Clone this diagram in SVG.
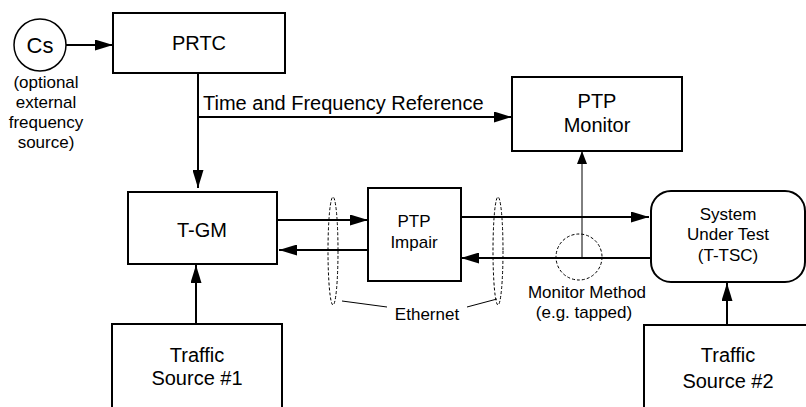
<svg xmlns="http://www.w3.org/2000/svg" width="806" height="407" viewBox="0 0 806 407">
<style>
  text { font-family: "Liberation Sans", Arial, sans-serif; fill: #000; text-anchor: middle; }
  .big { font-size: 20px; }
  .mid { font-size: 17px; }
  .box { fill: #fff; stroke: #000; stroke-width: 2; }
  .conn { stroke: #000; stroke-width: 2; fill: none; marker-end: url(#ah); }
  .thin { stroke: #000; stroke-width: 1; fill: none; }
  .dash { stroke: #000; stroke-width: 1; fill: none; stroke-dasharray: 3 2; }
</style>
<defs>
  <marker id="ah" markerUnits="userSpaceOnUse" markerWidth="18" markerHeight="11" refX="18" refY="5.5" orient="auto">
    <path d="M0,0 L18,5.5 L0,11 z" fill="#000"/>
  </marker>
  <marker id="ahs" markerUnits="userSpaceOnUse" markerWidth="13" markerHeight="10" refX="13" refY="5" orient="auto">
    <path d="M0,0 L13,5 L0,10 z" fill="#000"/>
  </marker>
</defs>
<rect width="806" height="407" fill="#fff"/>

<g id="connectors">
  <line class="conn" x1="66" y1="45" x2="113" y2="45"/>
  <line class="conn" x1="198" y1="73" x2="198" y2="188"/>
  <line class="conn" x1="198" y1="117" x2="512" y2="117"/>
  <line class="conn" x1="277" y1="220" x2="368" y2="220"/>
  <line class="conn" x1="368" y1="250" x2="279" y2="250"/>
  <line class="conn" x1="461" y1="217" x2="649" y2="217"/>
  <line class="conn" x1="651" y1="258" x2="461" y2="258"/>
  <line class="thin" x1="582" y1="257" x2="582" y2="151" marker-end="url(#ahs)"/>
  <line class="conn" x1="196" y1="324" x2="196" y2="265"/>
  <line class="conn" x1="727" y1="325" x2="727" y2="283"/>
</g>

<g id="cs">
  <circle cx="40" cy="45" r="26" fill="#fff" stroke="#000" stroke-width="1.5"/>
  <text x="40" y="53" style="font-size:22px">Cs</text>
  <text class="mid" x="46" y="88">(optional</text>
  <text class="mid" x="46" y="108">external</text>
  <text class="mid" x="46" y="128">frequency</text>
  <text class="mid" x="46" y="148">source)</text>
</g>

<g id="prtc">
  <rect class="box" x="113" y="13" width="172" height="60"/>
  <text class="big" x="199" y="50">PRTC</text>
</g>

<g id="tfref">
  <text class="big" x="203" y="110" style="text-anchor:start">Time and Frequency Reference</text>
</g>

<g id="ptp-monitor">
  <rect class="box" x="512" y="77" width="170" height="74"/>
  <text class="big" x="597" y="108">PTP</text>
  <text class="big" x="597" y="132">Monitor</text>
</g>

<g id="tgm">
  <rect class="box" x="128" y="192" width="149" height="72"/>
  <text class="big" x="202" y="237">T-GM</text>
</g>

<g id="ptp-impair">
  <rect class="box" x="368" y="188" width="93" height="93"/>
  <text class="mid" x="414" y="227">PTP</text>
  <text class="mid" x="414" y="248">Impair</text>
</g>

<g id="sut">
  <rect class="box" x="651" y="191" width="154" height="91" rx="20" ry="20"/>
  <text class="mid" x="728" y="220">System</text>
  <text class="mid" x="728" y="240">Under Test</text>
  <text class="mid" x="728" y="261">(T-TSC)</text>
</g>

<g id="ethernet">
  <ellipse class="dash" cx="333" cy="251" rx="5" ry="54"/>
  <ellipse class="dash" cx="498" cy="251" rx="5" ry="54"/>
  <line class="thin" x1="342" y1="301" x2="387" y2="307"/>
  <line class="thin" x1="467" y1="307" x2="497" y2="299"/>
  <text class="mid" x="427" y="320">Ethernet</text>
</g>

<g id="monitor-method">
  <circle class="dash" cx="579" cy="257" r="23"/>
  <text class="mid" x="587" y="298">Monitor Method</text>
  <text class="mid" x="584" y="318">(e.g. tapped)</text>
</g>

<g id="traffic1">
  <rect class="box" x="112" y="324" width="170" height="90"/>
  <text class="big" x="197" y="362">Traffic</text>
  <text class="big" x="197" y="385">Source #1</text>
</g>

<g id="traffic2">
  <rect class="box" x="644" y="325" width="168" height="90"/>
  <text class="big" x="728" y="362">Traffic</text>
  <text class="big" x="728" y="388">Source #2</text>
</g>
</svg>
